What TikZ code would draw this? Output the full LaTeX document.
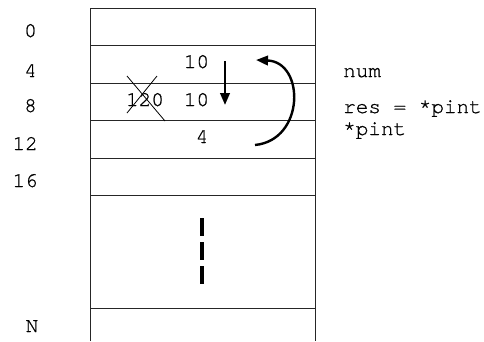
\documentclass[tikz,border=0pt]{standalone}
\usepackage{fontspec}
\setmonofont[FakeBold=0.8]{TeX Gyre Cursor}
\usetikzlibrary{positioning, arrows.meta}

\begin{document}
\begin{tikzpicture}[x=1pt, y=-1pt,
    every node/.style={font=\ttfamily\fontsize{21}{24}\selectfont, inner sep=0pt},
    cell/.style={line width=1pt, draw=black!85},
    move/.style={line width=2.4pt, -{Triangle[length=12pt, width=9.5pt]}}]

      \useasboundingbox (0,0) rectangle (484,341);

      % memory column
      \draw[cell] (90,341) -- (90,8) -- (315,8) -- (315,341);
      \foreach \y in {45.5,83,120.5,158,195.5,308}
        \draw[cell] (90,\y) -- (315,\y);

      % addresses
      \node[anchor=base east] (adr0)  at (37,37)  {0};
      \node[anchor=base east] (adr4)  at (37,77)  {4};
      \node[anchor=base east] (adr8)  at (37,112) {8};
      \node[anchor=base east] (adr12) at (38,150) {12};
      \node[anchor=base east] (adr16) at (38,187) {16};
      \node[anchor=base east] (adrN)  at (38.5,332) {N};

      % contents
      \node[anchor=base] (num)  at (196.5,68)  {10};
      \node[anchor=base] (old)  at (145,106)   {120};
      \node[anchor=base] (res)  at (196.5,106) {10};
      \node[anchor=base] (pint) at (202,143)   {4};
      \draw[line width=0.8pt] (127,76) -- (165,121);
      \draw[line width=0.8pt] (157,76) -- (127,113);

      % variable names
      \node[anchor=base west] (vnum)  at (343,77)  {num};
      \node[anchor=base west] (vres)  at (343,113) {res = *pint};
      \node[anchor=base west] (vpint) at (343,135) {*pint};

      % arrows
      \coordinate (copyfrom) at (225,61);
      \coordinate (copyto)   at (225,105);
      \coordinate (ptrfrom)  at (255,145);
      \coordinate (ptrto)    at (256,60);
      \draw[move] (copyfrom) -- (copyto);
      \draw[move] (ptrfrom) .. controls (305,140) and (305,62) .. (ptrto);

      % gap in memory
      \draw[line width=4pt, dash pattern=on 18pt off 6pt] (202,218) -- (202,284);

    \end{tikzpicture}
\end{document}
